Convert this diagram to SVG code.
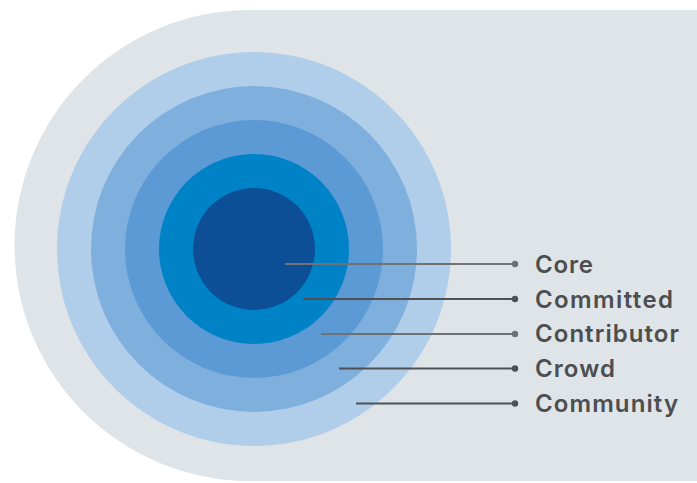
<svg xmlns="http://www.w3.org/2000/svg" width="697" height="483" viewBox="0 0 697 483">
  <style>
    .lead { stroke-width: 2; fill: none; }
    .lead.light { stroke: #707173; }
    .lead.dark { stroke: #4F5052; }
    .dot.light { fill: #707173; }
    .dot.dark { fill: #4F5052; }
    .label { font-family: Inter, "Open Sans", "Liberation Sans", sans-serif; font-weight: 600; font-size: 24px; fill: #4D4E50; }
  </style>
  <rect width="697" height="483" fill="#FFFFFF"/>
  <!-- backdrop panel with rounded left end -->
  <path d="M250,10 H697 V481 H250 A235.5,235.5 0 0 1 250,10 Z" fill="#DEE4E8"/>

  <!-- concentric rings, outermost first -->
  <g id="community"><circle cx="254" cy="249" r="197" fill="#B0CEEA"/></g>
  <g id="crowd"><circle cx="254" cy="249" r="163" fill="#7FAFDD"/></g>
  <g id="contributor"><circle cx="254" cy="249" r="129" fill="#5B9AD4"/></g>
  <g id="committed"><circle cx="254" cy="249" r="95" fill="#0082C7"/></g>
  <g id="core"><circle cx="254" cy="249" r="61" fill="#0C4F96"/></g>

  <!-- leader lines -->
  <g id="connectors">
    <line class="lead light" x1="285" y1="264" x2="515" y2="264"/>
    <circle class="dot light" cx="515" cy="264" r="3.2"/>
    <line class="lead dark" x1="303" y1="299" x2="515" y2="299"/>
    <circle class="dot dark" cx="515" cy="299" r="3.2"/>
    <line class="lead light" x1="321" y1="334" x2="515" y2="334"/>
    <circle class="dot light" cx="515" cy="334" r="3.2"/>
    <line class="lead dark" x1="339" y1="368.5" x2="515" y2="368.5"/>
    <circle class="dot dark" cx="515" cy="368.5" r="3.2"/>
    <line class="lead dark" x1="356" y1="403.5" x2="515" y2="403.5"/>
    <circle class="dot dark" cx="515" cy="403.5" r="3.2"/>
  </g>

  <!-- ring labels -->
  <g id="labels">
    <text class="label" x="535" y="273" textLength="58">Core</text>
    <text class="label" x="535" y="307.7" textLength="138">Committed</text>
    <text class="label" x="535" y="342.3" textLength="144">Contributor</text>
    <text class="label" x="535" y="377" textLength="80">Crowd</text>
    <text class="label" x="535" y="411.7" textLength="143">Community</text>
  </g>
</svg>
